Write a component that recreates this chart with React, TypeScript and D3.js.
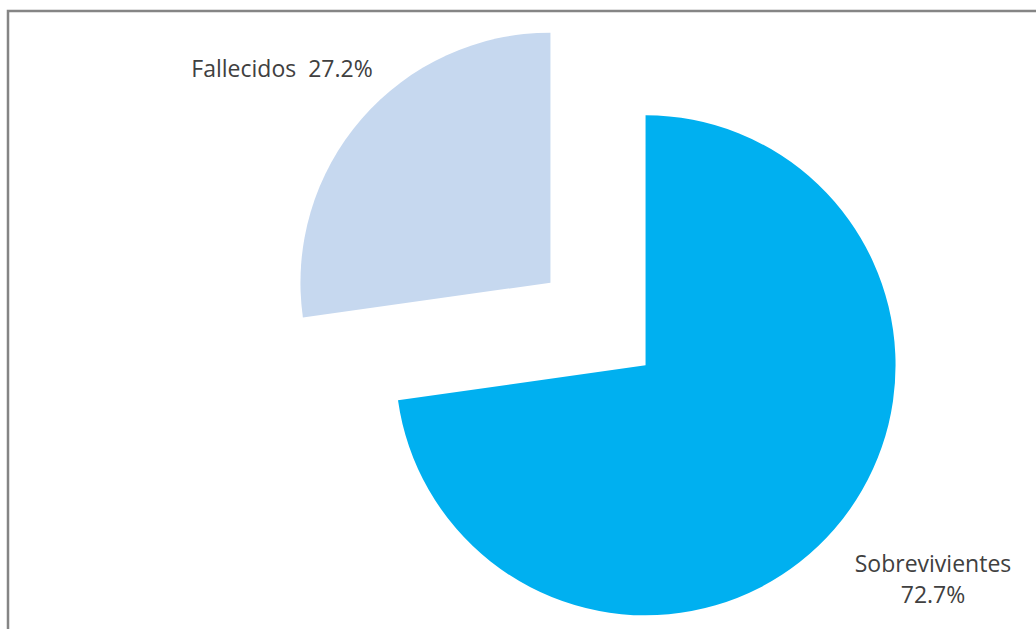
import React from "react"
import * as d3 from "d3"

const categories = ["Sobrevivientes", "Fallecidos"]
const values = [72.7, 27.2]
const colors = ["#00B0F0", "#C6D8EF"]

const width = 1036
const height = 629
const cx = 598
const cy = 324
const radius = 250
const explode = 63

export default function App() {
  const pie = d3
    .pie<number>()
    .sort(null)
    .startAngle(0)
    .endAngle(2 * Math.PI)
  const slices = pie(values)
  const arc = d3.arc<d3.PieArcDatum<number>>().innerRadius(0).outerRadius(radius)

  const offset = (d: d3.PieArcDatum<number>) => {
    const mid = (d.startAngle + d.endAngle) / 2
    return [Math.sin(mid) * explode, -Math.cos(mid) * explode]
  }

  const textStyle = {
    fontFamily: "'Open Sans', sans-serif",
    fontSize: 23,
    fill: "#404040",
  }

  return (
    <svg
      width={width}
      height={height}
      style={{ position: "absolute", left: 0, top: 0, background: "#fff" }}
    >
      {/* chart frame, only top and left edges are visible */}
      <path d={`M8,${height} L8,11 L${width},11`} fill="none" stroke="#858585" strokeWidth={2.5} />

      <g transform={`translate(${cx},${cy})`}>
        {slices.map((d, i) => {
          const [dx, dy] = offset(d)
          return (
            <path
              key={categories[i]}
              d={arc(d) ?? ""}
              transform={`translate(${dx},${dy})`}
              fill={colors[i]}
            />
          )
        })}
      </g>

      <text x={282} y={77} textAnchor="middle" style={{ ...textStyle, whiteSpace: "pre" }}>
        {`${categories[1]}  ${values[1]}%`}
      </text>
      <text x={933} y={572} textAnchor="middle" style={textStyle}>
        {categories[0]}
      </text>
      <text x={933} y={603} textAnchor="middle" style={textStyle}>
        {`${values[0]}%`}
      </text>
    </svg>
  )
}
